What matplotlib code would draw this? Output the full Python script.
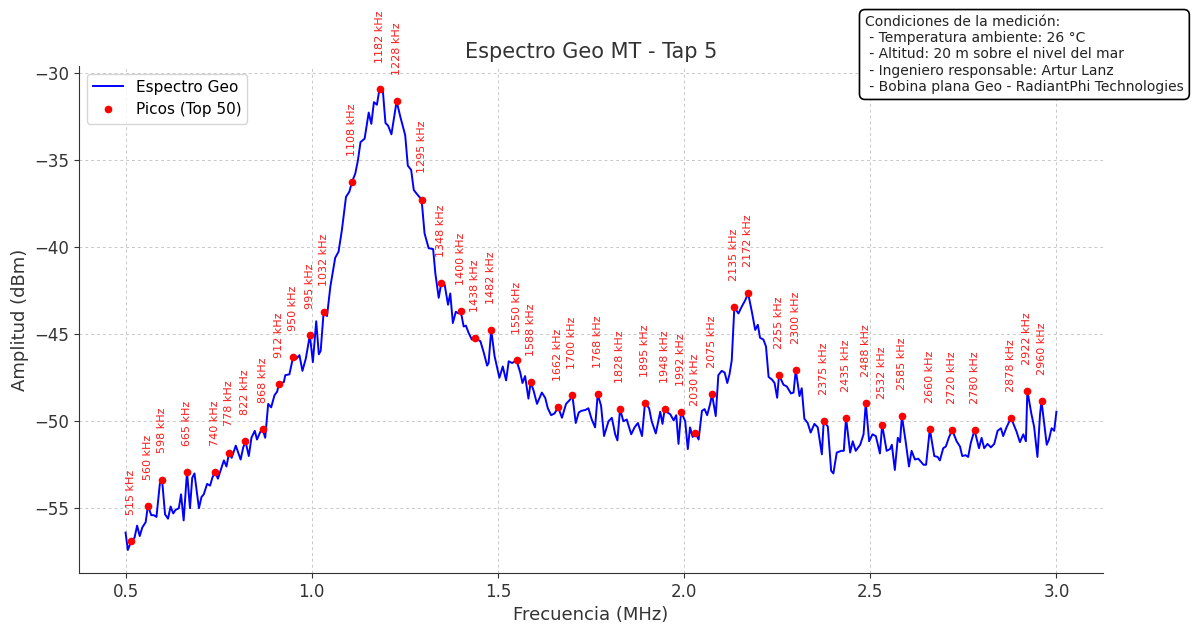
import numpy as np
import matplotlib.pyplot as plt

# Espectro medido (frecuencia en kHz, amplitud en dBm)
freq_khz = [500, 506, 515, 524, 531, 538, 545, 554, 560, 569, 576, 583, 592, 598, 606, 614, 621, 628, 634, 643,
            649, 656, 665, 673, 679, 685, 697, 704, 710, 719, 727, 733, 740, 748, 757, 764, 771, 778, 785, 796,
            809, 816, 822, 831, 838, 847, 853, 862, 868, 875, 883, 891, 900, 907, 912, 925, 929, 940, 950, 959,
            967, 975, 984, 995, 1003, 1012, 1019, 1024, 1032, 1041, 1050, 1063, 1072, 1081, 1092, 1101, 1108, 1117, 1124, 1131,
            1142, 1153, 1160, 1167, 1175, 1182, 1191, 1198, 1205, 1214, 1220, 1228, 1238, 1251, 1258, 1267, 1274, 1283, 1295, 1303,
            1314, 1326, 1332, 1341, 1348, 1357, 1366, 1372, 1379, 1387, 1394, 1400, 1408, 1414, 1421, 1430, 1438, 1453, 1462, 1471,
            1475, 1482, 1491, 1504, 1513, 1522, 1529, 1538, 1550, 1560, 1566, 1573, 1582, 1588, 1596, 1605, 1618, 1627, 1634, 1643,
            1652, 1662, 1672, 1683, 1694, 1700, 1709, 1717, 1724, 1735, 1743, 1752, 1761, 1768, 1777, 1785, 1797, 1806, 1815, 1821,
            1828, 1837, 1846, 1858, 1867, 1876, 1887, 1895, 1906, 1913, 1924, 1936, 1942, 1948, 1956, 1963, 1972, 1979, 1985, 1992,
            2003, 2010, 2016, 2023, 2030, 2039, 2048, 2055, 2062, 2070, 2075, 2085, 2092, 2101, 2109, 2116, 2122, 2128, 2135, 2146,
            2155, 2164, 2172, 2182, 2191, 2198, 2204, 2213, 2220, 2227, 2236, 2243, 2250, 2255, 2267, 2276, 2287, 2294, 2300, 2310,
            2316, 2323, 2332, 2340, 2350, 2359, 2370, 2375, 2386, 2395, 2401, 2410, 2422, 2429, 2435, 2446, 2453, 2461, 2473, 2482,
            2488, 2497, 2506, 2515, 2526, 2532, 2544, 2553, 2558, 2566, 2574, 2580, 2585, 2595, 2604, 2611, 2620, 2629, 2643, 2650,
            2660, 2672, 2681, 2687, 2696, 2703, 2711, 2720, 2732, 2741, 2747, 2756, 2763, 2770, 2780, 2792, 2799, 2806, 2815, 2824,
            2833, 2842, 2851, 2857, 2866, 2878, 2893, 2902, 2911, 2918, 2922, 2933, 2940, 2949, 2956, 2960, 2974, 2980, 2987, 2994,
            3000]
amp_dbm = [-56.4, -57.4, -56.9, -56.7, -56.0, -56.6, -56.1, -55.8, -54.85, -55.4, -55.4, -55.5, -53.6, -53.35, -55.35, -55.6, -54.9, -55.3, -55.1, -55.0,
           -54.2, -55.7, -52.9, -55.0, -53.25, -53.0, -55.0, -54.35, -54.2, -53.6, -53.7, -53.25, -52.9, -53.3, -52.7, -52.25, -52.6, -51.8, -52.1, -51.4,
           -52.2, -51.5, -51.15, -52.0, -50.95, -50.55, -51.05, -50.6, -50.45, -50.95, -49.0, -49.2, -48.5, -48.3, -47.85, -47.75, -47.35, -47.3, -46.3, -46.4,
           -46.2, -47.1, -46.4, -45.05, -46.6, -44.25, -46.15, -45.95, -43.7, -43.95, -42.25, -40.6, -40.25, -39.0, -37.1, -36.8, -36.25, -35.75, -35.0, -33.95,
           -33.75, -32.25, -32.9, -31.65, -31.8, -30.9, -31.0, -32.85, -33.0, -33.5, -32.7, -31.6, -32.5, -33.55, -35.3, -35.55, -36.7, -36.95, -37.25, -39.2,
           -40.05, -40.1, -41.5, -42.9, -42.05, -42.15, -43.3, -42.65, -44.35, -43.7, -43.8, -43.65, -44.55, -44.5, -44.9, -45.3, -45.2, -45.4, -46.05, -46.8,
           -46.65, -44.75, -46.25, -47.5, -46.85, -47.65, -46.55, -46.65, -46.5, -47.2, -47.8, -47.4, -48.7, -47.75, -48.25, -49.0, -48.35, -48.65, -49.25, -49.65,
           -49.55, -49.2, -49.8, -49.0, -48.75, -48.5, -50.1, -49.5, -49.4, -49.35, -49.25, -49.9, -50.35, -48.45, -49.1, -50.85, -50.0, -49.8, -50.75, -51.1,
           -49.3, -50.0, -49.9, -50.75, -50.35, -50.1, -50.85, -48.95, -49.25, -50.0, -50.7, -49.45, -50.15, -49.3, -49.5, -49.6, -49.95, -49.65, -51.3, -49.45,
           -50.0, -51.6, -50.35, -50.9, -50.65, -51.05, -49.4, -49.3, -49.65, -49.0, -48.45, -49.7, -47.35, -47.1, -47.2, -47.8, -47.3, -46.5, -43.45, -43.8,
           -43.4, -43.05, -42.65, -43.7, -44.75, -44.45, -45.2, -45.3, -45.7, -47.45, -47.6, -47.8, -48.65, -47.35, -47.9, -48.0, -48.4, -48.35, -47.05, -48.55,
           -48.1, -49.85, -50.1, -50.65, -50.15, -50.35, -51.9, -50.0, -50.3, -52.85, -53.0, -51.8, -51.7, -51.7, -49.8, -51.8, -51.15, -51.7, -51.35, -50.75,
           -48.95, -51.15, -50.75, -50.85, -51.85, -50.2, -51.7, -51.6, -51.35, -52.8, -50.95, -51.2, -49.7, -51.15, -52.6, -51.7, -52.2, -52.15, -52.5, -52.5,
           -50.45, -52.0, -52.05, -52.25, -51.55, -51.45, -50.95, -50.5, -51.15, -51.45, -52.0, -51.95, -52.05, -51.25, -50.5, -51.55, -50.95, -51.55, -51.3, -51.5,
           -51.3, -50.55, -50.4, -50.85, -50.35, -49.8, -50.6, -51.2, -50.75, -51.15, -48.25, -49.6, -50.3, -52.05, -49.6, -48.85, -51.35, -51.05, -50.4, -50.55,
           -49.45]

# Picos marcados (kHz)
peaks_khz = [515, 560, 598, 665, 740, 778, 822, 868, 912, 950, 995, 1032, 1108, 1182, 1228, 1295,
             1348, 1400, 1438, 1482, 1550, 1588, 1662, 1700, 1768, 1828, 1895, 1948, 1992, 2030, 2075,
             2135, 2172, 2255, 2300, 2375, 2435, 2488, 2532, 2585, 2660, 2720, 2780, 2878, 2922, 2960]

freq = np.array(freq_khz) / 1000.0
amp = np.array(amp_dbm)
idx = [freq_khz.index(p) for p in peaks_khz]

fig, ax = plt.subplots(figsize=(11.92, 6.29), dpi=100)
fig.subplots_adjust(left=0.0663, right=0.9253, bottom=0.089, top=0.895)

ax.plot(freq, amp, color='blue', linewidth=1.4, label='Espectro Geo')
ax.plot(freq[idx], amp[idx], 'o', color='red', markersize=4.5, label='Picos (Top 50)')

for i in idx:
    ax.text(freq[i], amp[i] + 1.5, f"{freq_khz[i]} kHz", rotation=90, fontsize=8,
            color='red', alpha=0.9, ha='center', va='bottom')

ax.set_title("Espectro Geo MT - Tap 5", fontsize=15, color='#333333')
ax.set_xlabel("Frecuencia (MHz)", fontsize=13, color='#333333')
ax.set_ylabel("Amplitud (dBm)", fontsize=13, color='#333333')
ax.tick_params(labelsize=12, colors='#333333')
ax.grid(True, linestyle=(0, (3, 3)), color='#c8c8c8', linewidth=0.7)
ax.spines['top'].set_visible(False)
ax.spines['right'].set_visible(False)
ax.spines['left'].set_color('#333333')
ax.spines['bottom'].set_color('#333333')
ax.legend(loc='upper left', fontsize=11)

info = ("Condiciones de la medición:\n"
        " - Temperatura ambiente: 26 °C\n"
        " - Altitud: 20 m sobre el nivel del mar\n"
        " - Ingeniero responsable: Artur Lanz\n"
        " - Bobina plana Geo - RadiantPhi Technologies")
fig.text(0.7257, 0.976, info, fontsize=10, ha='left', va='top', color='#222222',
         bbox=dict(boxstyle='round,pad=0.4', facecolor='white', edgecolor='black', linewidth=1.2))

plt.savefig("out.png", dpi=100)
